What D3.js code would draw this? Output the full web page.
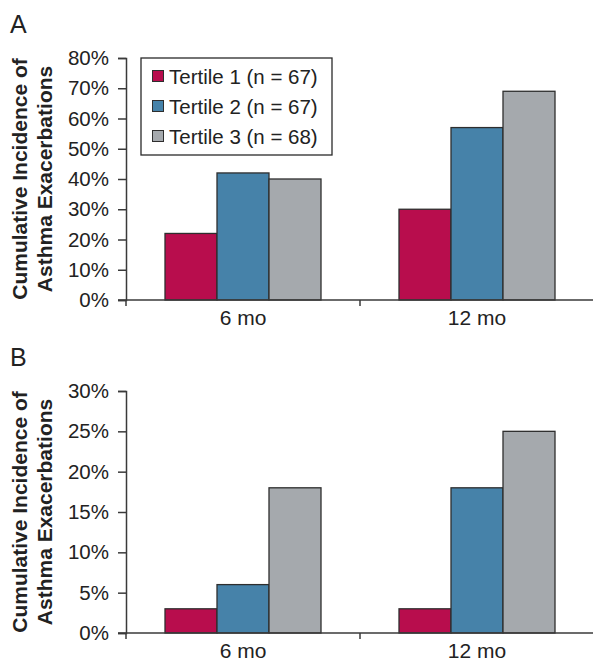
<!DOCTYPE html>
<html>
<head>
<meta charset="utf-8">
<script src="https://cdn.jsdelivr.net/npm/d3@7"></script>
<style>
  html, body { margin: 0; padding: 0; background: #fff; }
  svg { display: block; font-family: "Liberation Sans", Arial, Helvetica, sans-serif; }
</style>
</head>
<body>
<svg id="chart" width="593" height="661"></svg>
<script>
// Time points and tertile groups
const timepoints = ["6 mo", "12 mo"];
const tertiles = ["Tertile 1 (n = 67)", "Tertile 2 (n = 67)", "Tertile 3 (n = 68)"];
const colors = ["#B80D4D", "#4682A9", "#A5A9AD"];

// Panel A: cumulative incidence (%), one array per tertile across time points
const panelA_t1 = [22, 30];
const panelA_t2 = [42, 57];
const panelA_t3 = [40, 69];
const panelA_ticks = [0, 10, 20, 30, 40, 50, 60, 70, 80];

// Panel B: cumulative incidence (%)
const panelB_t1 = [3, 3];
const panelB_t2 = [6, 18];
const panelB_t3 = [18, 25];
const panelB_ticks = [0, 5, 10, 15, 20, 25, 30];

const svg = d3.select("#chart");
const axisColor = "#3a3a3a";
const barStroke = "#2e2e2e";

function drawPanel(cfg) {
  const { letter, letterY, top, bottom, series, ticks, legend } = cfg;
  const left = 126, right = 594;
  const g = svg.append("g");

  const x0 = d3.scaleBand().domain(timepoints).range([left, right]).paddingInner(0).paddingOuter(0);
  const x1 = d3.scaleBand().domain(d3.range(tertiles.length))
    .range([0, x0.bandwidth()]).paddingOuter(0.75).paddingInner(0);
  const y = d3.scaleLinear().domain([0, d3.max(ticks)]).range([bottom, top]);

  // panel letter
  g.append("text").attr("x", 10).attr("y", letterY)
    .attr("font-size", 25).attr("fill", "#222").text(letter);

  // bars
  timepoints.forEach((tp, i) => {
    series.forEach((vals, s) => {
      g.append("rect")
        .attr("x", x0(tp) + x1(s))
        .attr("y", y(vals[i]))
        .attr("width", x1.bandwidth())
        .attr("height", y(0) - y(vals[i]))
        .attr("fill", colors[s])
        .attr("stroke", barStroke)
        .attr("stroke-width", 1.3);
    });
  });

  // y axis
  const yAxis = d3.axisLeft(y).tickValues(ticks).tickSize(8).tickPadding(9)
    .tickFormat(d => d + "%");
  const ya = g.append("g").attr("transform", `translate(${left},0)`).call(yAxis);
  ya.select(".domain").attr("stroke", axisColor).attr("stroke-width", 1.5);
  ya.selectAll(".tick line").attr("stroke", axisColor).attr("stroke-width", 1.5);
  ya.selectAll(".tick text").attr("font-size", 20.5).attr("fill", "#222")
    .attr("font-family", "Liberation Sans, Arial, sans-serif");

  // x axis: ticks at band boundaries, labels at band centres
  const xa = g.append("g").attr("transform", `translate(0,${bottom})`);
  xa.append("line").attr("x1", left - 8).attr("x2", right).attr("y1", 0).attr("y2", 0)
    .attr("stroke", axisColor).attr("stroke-width", 1.5);
  const bounds = timepoints.map(t => x0(t)).concat([right]);
  xa.selectAll("line.bt").data(bounds).join("line").attr("class", "bt")
    .attr("x1", d => d).attr("x2", d => d).attr("y1", 0).attr("y2", 6)
    .attr("stroke", axisColor).attr("stroke-width", 1.5);
  xa.selectAll("text").data(timepoints).join("text")
    .attr("x", d => x0(d) + x0.bandwidth() / 2)
    .attr("y", 24.5)
    .attr("text-anchor", "middle")
    .attr("font-size", 21).attr("fill", "#222")
    .text(d => d);

  // y axis title (two lines, rotated)
  const cy = (top + bottom) / 2;
  const title = g.append("text")
    .attr("transform", `translate(0,${cy}) rotate(-90)`)
    .attr("text-anchor", "middle")
    .attr("font-size", 21).attr("font-weight", "bold").attr("fill", "#222");
  title.append("tspan").attr("x", 0).attr("y", 27).text("Cumulative Incidence of");
  title.append("tspan").attr("x", 0).attr("y", 52).text("Asthma Exacerbations");

  if (legend) {
    const lg = g.append("g");
    lg.append("rect").attr("x", 141).attr("y", 58).attr("width", 191).attr("height", 97)
      .attr("fill", "#fff").attr("stroke", "#2a2a2a").attr("stroke-width", 1.3);
    tertiles.forEach((t, i) => {
      const cyL = 76 + i * 30;
      lg.append("rect").attr("x", 152.5).attr("y", cyL - 5.5).attr("width", 11).attr("height", 11)
        .attr("fill", colors[i]).attr("stroke", barStroke).attr("stroke-width", 1);
      lg.append("text").attr("x", 169).attr("y", cyL + 7.5)
        .attr("font-size", 20.5).attr("fill", "#222").text(t);
    });
  }
}

drawPanel({
  letter: "A", letterY: 33, top: 58, bottom: 300,
  series: [panelA_t1, panelA_t2, panelA_t3], ticks: panelA_ticks, legend: true
});
drawPanel({
  letter: "B", letterY: 366, top: 391, bottom: 633,
  series: [panelB_t1, panelB_t2, panelB_t3], ticks: panelB_ticks, legend: false
});
</script>
</body>
</html>
